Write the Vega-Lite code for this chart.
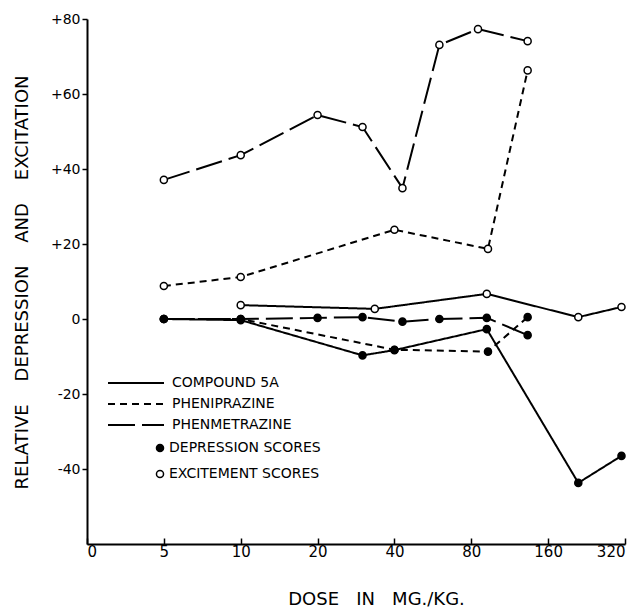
{
  "$schema": "https://vega.github.io/schema/vega-lite/v6.json",
  "width": 538,
  "height": 525,
  "autosize": "none",
  "padding": {"left": 87, "top": 19, "right": 18, "bottom": 64},
  "background": "white",
  "config": {
    "view": {"stroke": null},
    "font": "DejaVu Sans",
    "axis": {
      "grid": false,
      "domainColor": "black",
      "domainWidth": 2,
      "tickColor": "black",
      "tickWidth": 1.5,
      "labelColor": "black",
      "labelFont": "DejaVu Sans",
      "titleFont": "DejaVu Sans",
      "titleColor": "black",
      "titleFontWeight": "normal"
    },
    "legend": {
      "labelFont": "DejaVu Sans",
      "labelColor": "black",
      "padding": 0
    }
  },
  "data": {
    "values": [
      {"drug": "COMPOUND 5A", "score": "DEPRESSION SCORES", "dose": 5, "value": 0},
      {"drug": "COMPOUND 5A", "score": "DEPRESSION SCORES", "dose": 10, "value": -0.3},
      {"drug": "COMPOUND 5A", "score": "DEPRESSION SCORES", "dose": 30, "value": -9.7},
      {"drug": "COMPOUND 5A", "score": "DEPRESSION SCORES", "dose": 40, "value": -8.3},
      {"drug": "COMPOUND 5A", "score": "DEPRESSION SCORES", "dose": 92, "value": -2.7},
      {"drug": "COMPOUND 5A", "score": "DEPRESSION SCORES", "dose": 210, "value": -43.7},
      {"drug": "COMPOUND 5A", "score": "DEPRESSION SCORES", "dose": 310, "value": -36.5},
      {"drug": "COMPOUND 5A", "score": "EXCITEMENT SCORES", "dose": 10, "value": 3.7},
      {"drug": "COMPOUND 5A", "score": "EXCITEMENT SCORES", "dose": 33.5, "value": 2.7},
      {"drug": "COMPOUND 5A", "score": "EXCITEMENT SCORES", "dose": 92, "value": 6.7},
      {"drug": "COMPOUND 5A", "score": "EXCITEMENT SCORES", "dose": 210, "value": 0.5},
      {"drug": "COMPOUND 5A", "score": "EXCITEMENT SCORES", "dose": 310, "value": 3.2},
      {"drug": "PHENIPRAZINE", "score": "DEPRESSION SCORES", "dose": 5, "value": 0},
      {"drug": "PHENIPRAZINE", "score": "DEPRESSION SCORES", "dose": 10, "value": 0},
      {"drug": "PHENIPRAZINE", "score": "DEPRESSION SCORES", "dose": 40, "value": -8.2},
      {"drug": "PHENIPRAZINE", "score": "DEPRESSION SCORES", "dose": 93, "value": -8.7},
      {"drug": "PHENIPRAZINE", "score": "DEPRESSION SCORES", "dose": 133, "value": 0.5},
      {"drug": "PHENIPRAZINE", "score": "EXCITEMENT SCORES", "dose": 5, "value": 8.8},
      {"drug": "PHENIPRAZINE", "score": "EXCITEMENT SCORES", "dose": 10, "value": 11.2},
      {"drug": "PHENIPRAZINE", "score": "EXCITEMENT SCORES", "dose": 40, "value": 23.8},
      {"drug": "PHENIPRAZINE", "score": "EXCITEMENT SCORES", "dose": 93, "value": 18.7},
      {"drug": "PHENIPRAZINE", "score": "EXCITEMENT SCORES", "dose": 133, "value": 66.3},
      {"drug": "PHENMETRAZINE", "score": "DEPRESSION SCORES", "dose": 5, "value": 0},
      {"drug": "PHENMETRAZINE", "score": "DEPRESSION SCORES", "dose": 10, "value": 0},
      {"drug": "PHENMETRAZINE", "score": "DEPRESSION SCORES", "dose": 20, "value": 0.3},
      {"drug": "PHENMETRAZINE", "score": "DEPRESSION SCORES", "dose": 30, "value": 0.5},
      {"drug": "PHENMETRAZINE", "score": "DEPRESSION SCORES", "dose": 43, "value": -0.7},
      {"drug": "PHENMETRAZINE", "score": "DEPRESSION SCORES", "dose": 60, "value": 0},
      {"drug": "PHENMETRAZINE", "score": "DEPRESSION SCORES", "dose": 92, "value": 0.3},
      {"drug": "PHENMETRAZINE", "score": "DEPRESSION SCORES", "dose": 133, "value": -4.3},
      {"drug": "PHENMETRAZINE", "score": "EXCITEMENT SCORES", "dose": 5, "value": 37.1},
      {"drug": "PHENMETRAZINE", "score": "EXCITEMENT SCORES", "dose": 10, "value": 43.7},
      {"drug": "PHENMETRAZINE", "score": "EXCITEMENT SCORES", "dose": 20, "value": 54.4},
      {"drug": "PHENMETRAZINE", "score": "EXCITEMENT SCORES", "dose": 30, "value": 51.2},
      {"drug": "PHENMETRAZINE", "score": "EXCITEMENT SCORES", "dose": 43, "value": 34.9},
      {"drug": "PHENMETRAZINE", "score": "EXCITEMENT SCORES", "dose": 60, "value": 73.1},
      {"drug": "PHENMETRAZINE", "score": "EXCITEMENT SCORES", "dose": 85, "value": 77.3},
      {"drug": "PHENMETRAZINE", "score": "EXCITEMENT SCORES", "dose": 133, "value": 74.1}
    ]
  },
  "encoding": {
    "x": {
      "field": "dose",
      "type": "quantitative",
      "scale": {"type": "log", "base": 2, "domain": [2.5, 320]},
      "axis": {
        "values": [2.5, 5, 10, 20, 40, 80, 160, 320],
        "labelExpr": "datum.value < 3 ? '0' : format(datum.value, 'd')",
        "labelFontSize": 15,
        "tickSize": -6,
        "labelPadding": 6,
        "title": "DOSE\u00a0\u00a0\u00a0IN\u00a0\u00a0\u00a0MG./KG.",
        "titleFontSize": 18,
        "titleX": 289,
        "titleY": 60,
        "titleAlign": "center",
        "titleBaseline": "alphabetic"
      }
    },
    "y": {
      "field": "value",
      "type": "quantitative",
      "scale": {"domain": [-60, 80]},
      "axis": {
        "values": [-40, -20, 0, 20, 40, 60, 80],
        "labelExpr": "datum.value > 0 ? '+' + datum.value : (datum.value < 0 ? '-' + abs(datum.value) : '0')",
        "labelFontSize": 14,
        "tickSize": 5,
        "labelPadding": 2,
        "title": "RELATIVE\u00a0\u00a0\u00a0\u00a0DEPRESSION\u00a0\u00a0\u00a0\u00a0AND\u00a0\u00a0\u00a0\u00a0EXCITATION",
        "titleFontSize": 18,
        "titleX": -60,
        "titleY": 263,
        "titleAngle": -90,
        "titleAlign": "center",
        "titleBaseline": "alphabetic"
      }
    }
  },
  "layer": [
    {
      "mark": {"type": "line", "strokeWidth": 2, "color": "black"},
      "encoding": {
        "strokeDash": {
          "field": "drug",
          "type": "nominal",
          "scale": {
            "domain": ["COMPOUND 5A", "PHENIPRAZINE", "PHENMETRAZINE"],
            "range": [[1, 0], [7, 5], [27, 7]]
          },
          "legend": {
            "title": null,
            "orient": "none",
            "legendX": 41,
            "legendY": 356,
            "symbolType": "M-4,0H4",
            "symbolSize": 196,
            "symbolStrokeColor": "black",
            "symbolStrokeWidth": 2,
            "symbolFillColor": "transparent",
            "labelOffset": 28,
            "labelFontSize": 14,
            "rowPadding": 6
          }
        },
        "detail": {"field": "score"}
      }
    },
    {
      "mark": {"type": "point", "filled": true, "size": 50, "stroke": "black", "strokeWidth": 1.5, "opacity": 1},
      "encoding": {
        "fill": {
          "field": "score",
          "type": "nominal",
          "scale": {
            "domain": ["DEPRESSION SCORES", "EXCITEMENT SCORES"],
            "range": ["black", "white"]
          },
          "legend": {
            "title": null,
            "orient": "none",
            "legendX": 66,
            "legendY": 422,
            "symbolType": "circle",
            "symbolSize": 50,
            "symbolStrokeColor": "black",
            "symbolStrokeWidth": 1.5,
            "labelOffset": 2,
            "labelFontSize": 14,
            "rowPadding": 12
          }
        }
      }
    }
  ]
}
